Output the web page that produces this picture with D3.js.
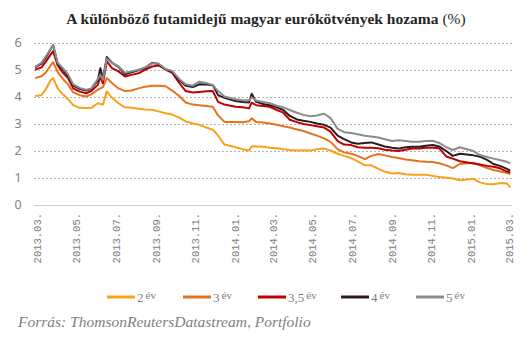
<!DOCTYPE html>
<html>
<head>
<meta charset="utf-8">
<script src="https://cdn.jsdelivr.net/npm/d3@7"></script>
<style>
  body { margin: 0; background: #fff; }
  svg { display: block; }
</style>
</head>
<body>
<svg id="chart" width="529" height="340"></svg>
<script>
// dates of the readings (yyyy-mm-dd)
var dates = ["2013-02-26","2013-03-08","2013-03-15","2013-03-22","2013-03-26","2013-04-02","2013-04-10",
  "2013-04-18","2013-04-26","2013-05-06","2013-05-16","2013-05-24","2013-06-03","2013-06-07","2013-06-11",
  "2013-06-17","2013-06-25","2013-07-05","2013-07-15","2013-07-25","2013-08-05","2013-08-15","2013-08-26",
  "2013-09-05","2013-09-16","2013-09-26","2013-10-07","2013-10-17","2013-10-28","2013-11-07","2013-11-18",
  "2013-11-28","2013-12-06","2013-12-16","2014-01-02","2014-01-13","2014-01-23","2014-01-27","2014-02-03",
  "2014-02-14","2014-02-24","2014-03-07","2014-03-17","2014-03-27","2014-04-07","2014-04-17","2014-04-28",
  "2014-05-08","2014-05-19","2014-05-29","2014-06-09","2014-06-19","2014-06-30","2014-07-10","2014-07-21",
  "2014-07-31","2014-08-11","2014-08-21","2014-09-01","2014-09-11","2014-09-22","2014-10-02","2014-10-13",
  "2014-10-23","2014-11-03","2014-11-13","2014-11-24","2014-12-04","2014-12-15","2015-01-05","2015-01-15",
  "2015-01-26","2015-02-05","2015-02-16","2015-02-26","2015-03-03"];

var ev2 = [4.02,4.05,4.28,4.6,4.68,4.3,4.08,3.9,3.68,3.58,3.57,3.58,3.75,3.72,3.7,
  4.19,3.95,3.75,3.6,3.58,3.55,3.52,3.51,3.45,3.38,3.33,3.22,3.08,3.0,2.95,2.85,
  2.77,2.55,2.22,2.12,2.05,2.0,2.16,2.15,2.14,2.1,2.08,2.05,2.02,2.0,2.01,2.0,
  2.05,2.07,2.0,1.88,1.8,1.72,1.6,1.45,1.45,1.32,1.22,1.15,1.17,1.12,1.1,1.1,
  1.1,1.06,1.02,0.99,0.96,0.9,0.95,0.82,0.76,0.75,0.8,0.78,0.63];
var ev3 = [4.68,4.75,4.9,5.15,5.27,4.9,4.65,4.45,4.15,4.05,4.0,4.08,4.25,4.3,4.35,
  4.68,4.5,4.3,4.2,4.22,4.3,4.36,4.4,4.4,4.38,4.22,4.02,3.78,3.7,3.68,3.65,
  3.62,3.3,3.06,3.06,3.05,3.08,3.19,3.06,3.04,3.0,2.95,2.9,2.85,2.78,2.72,2.63,
  2.55,2.45,2.32,2.05,1.93,1.88,1.8,1.68,1.8,1.87,1.82,1.76,1.72,1.67,1.64,1.6,
  1.58,1.57,1.53,1.45,1.35,1.5,1.55,1.45,1.35,1.28,1.22,1.17,1.13];
var ev35 = [4.99,5.08,5.3,5.55,5.68,5.15,4.88,4.68,4.3,4.18,4.12,4.2,4.43,4.74,4.49,
  5.3,5.05,4.93,4.74,4.8,4.86,4.99,5.11,5.15,5.0,4.88,4.5,4.2,4.15,4.17,4.19,
  4.2,3.8,3.7,3.62,3.6,3.56,3.77,3.68,3.65,3.62,3.5,3.4,3.14,3.05,2.98,2.94,
  2.9,2.85,2.7,2.35,2.22,2.2,2.12,2.1,2.1,2.08,2.03,2.0,1.98,2.03,2.07,2.07,
  2.1,2.1,2.08,1.78,1.7,1.6,1.52,1.48,1.43,1.4,1.33,1.22,1.18];
var ev4 = [5.08,5.22,5.45,5.75,5.9,5.2,5.0,4.75,4.4,4.28,4.22,4.28,4.6,5.05,4.65,
  5.46,5.25,5.1,4.82,4.9,4.97,5.05,5.25,5.2,5.0,4.92,4.6,4.4,4.35,4.45,4.44,
  4.42,4.05,3.95,3.83,3.8,3.78,4.1,3.8,3.72,3.68,3.6,3.5,3.28,3.15,3.1,3.06,
  3.0,2.95,2.85,2.55,2.42,2.3,2.25,2.28,2.3,2.22,2.15,2.1,2.07,2.12,2.14,2.14,
  2.18,2.2,2.15,1.98,1.8,1.88,1.82,1.77,1.65,1.5,1.42,1.32,1.25];
var ev5 = [5.1,5.25,5.5,5.75,5.88,5.25,5.05,4.82,4.45,4.32,4.25,4.3,4.65,4.8,4.62,
  5.4,5.25,5.12,4.88,4.93,4.99,5.08,5.23,5.22,5.02,4.95,4.65,4.45,4.4,4.55,4.5,
  4.42,4.2,4.0,3.9,3.86,3.86,3.97,3.85,3.8,3.75,3.66,3.6,3.5,3.4,3.32,3.27,
  3.3,3.36,3.2,2.8,2.68,2.65,2.6,2.55,2.52,2.48,2.42,2.35,2.38,2.35,2.32,2.32,
  2.35,2.36,2.28,2.12,2.02,2.12,1.98,1.83,1.76,1.7,1.64,1.58,1.52];

var seriesNums = ["2","3","3,5","4","5"];
var seriesValues = [ev2, ev3, ev35, ev4, ev5];
var colors = ["#f9a11b","#e5731b","#c00000","#2b1b1f","#8c8c8c"];
var yTicks = [0,1,2,3,4,5,6];
var xTicks = ["2013-03-01","2013-05-01","2013-07-01","2013-09-01","2013-11-01","2014-01-01",
  "2014-03-01","2014-05-01","2014-07-01","2014-09-01","2014-11-01","2015-01-01","2015-03-01"];

var parse = d3.timeParse("%Y-%m-%d"),
    fmt = d3.timeFormat("%Y.%m.");
var svg = d3.select("#chart");

var x = d3.scaleTime()
    .domain([parse("2013-03-01"), parse("2015-03-01")])
    .range([37, 509]);
var y = d3.scaleLinear().domain([0, 6]).range([204.5, 42.5]);

// title
var title = svg.append("text")
    .attr("x", 266).attr("y", 24)
    .attr("text-anchor", "middle")
    .style("font-family", "'Liberation Serif', serif")
    .style("font-size", "15.5px")
    .attr("fill", "#262626");
title.append("tspan").style("font-weight", "bold").text("A különböző futamidejű magyar eurókötvények hozama ");
title.append("tspan").text("(%)");

// grid
svg.append("g").selectAll("line")
    .data(yTicks.filter(d => d > 0)).enter().append("line")
    .attr("x1", 34).attr("x2", 512)
    .attr("y1", d => Math.round(y(d)) + 0.5).attr("y2", d => Math.round(y(d)) + 0.5)
    .attr("stroke", "#b3b3b3")
    .attr("stroke-dasharray", "2,2");
svg.append("line")
    .attr("x1", 34).attr("x2", 512)
    .attr("y1", Math.round(y(0)) + 0.5).attr("y2", Math.round(y(0)) + 0.5)
    .attr("stroke", "#d0d0d0");

// y labels
svg.append("g").selectAll("text")
    .data(yTicks).enter().append("text")
    .attr("x", 18).attr("y", d => y(d) + 4)
    .attr("text-anchor", "middle")
    .style("font-family", "'Noto Sans', sans-serif")
    .style("font-size", "12.5px")
    .attr("fill", "#808080")
    .text(d => d);

// x labels, rotated
svg.append("g").selectAll("text")
    .data(xTicks.map(parse)).enter().append("text")
    .attr("transform", d => "translate(" + (x(d) + 4) + ",213) rotate(-90)")
    .attr("text-anchor", "end")
    .style("font-family", "'Liberation Mono', monospace")
    .style("font-size", "10.5px")
    .attr("fill", "#808080")
    .text(d => fmt(d));

// lines
var line = d3.line()
    .x((d, i) => x(parse(dates[i])))
    .y(d => y(d));
svg.append("g")
    .attr("fill", "none")
    .attr("stroke-width", 2)
    .attr("stroke-linejoin", "round")
    .selectAll("path")
    .data(seriesValues).enter().append("path")
    .attr("stroke", (d, i) => colors[i])
    .attr("d", line);

// legend
var legX = [107, 183, 258, 341, 416];
var leg = svg.append("g").selectAll("g")
    .data(seriesNums).enter().append("g")
    .attr("transform", (d, i) => "translate(" + legX[i] + ",297)");
leg.append("line")
    .attr("x1", 0).attr("x2", 28)
    .attr("stroke", (d, i) => colors[i])
    .attr("stroke-width", 3);
var lt = leg.append("text")
    .attr("x", 30).attr("y", 5)
    .style("font-family", "'Liberation Serif', serif")
    .attr("fill", "#7f7f7f");
lt.append("tspan").style("font-size", "13px").text(d => d);
lt.append("tspan").attr("dx", 2).attr("dy", -3).style("font-size", "11px").text("év");

// source
svg.append("text")
    .attr("x", 18).attr("y", 327)
    .style("font-family", "'Liberation Serif', serif")
    .style("font-style", "italic")
    .style("font-size", "15.5px")
    .attr("fill", "#7f7f7f")
    .text("Forrás: ThomsonReutersDatastream, Portfolio");
</script>
</body>
</html>
